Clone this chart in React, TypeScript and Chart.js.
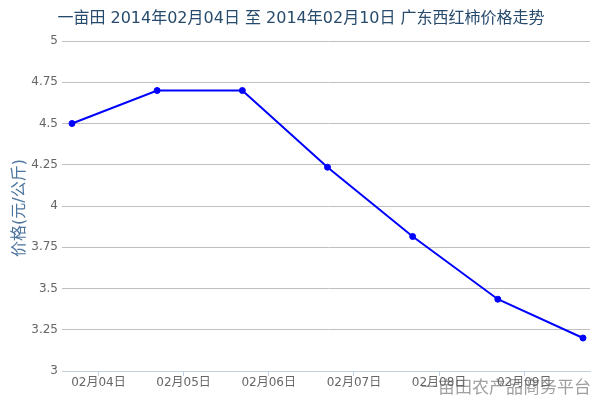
import React, { useEffect, useRef } from "react";
import { Chart, registerables } from "chart.js";

Chart.register(...registerables);

const TITLE = "一亩田 2014年02月04日 至 2014年02月10日 广东西红柿价格走势";
const Y_TITLE = "价格(元/公斤)";
const WATERMARK = "一亩田农产品商务平台";
const dateLabels = ["02月04日", "02月05日", "02月06日", "02月07日", "02月08日", "02月09日"];
const pointIndex = [0, 1, 2, 3, 4, 5, 6];
const prices = [4.5, 4.7, 4.7, 4.235, 3.815, 3.435, 3.2];
const yTicks = [3, 3.25, 3.5, 3.75, 4, 4.25, 4.5, 4.75, 5];

const FONT = "'DejaVu Sans', 'Noto Sans CJK SC', sans-serif";
const X_MIN = -5 / 85.17;
const X_MAX = 6 + 7 / 85.17;

const textPlugin = {
  id: "texts",
  beforeDraw(chart: any) {
    const ctx = chart.ctx;
    ctx.save();
    ctx.fillStyle = "#a0a0a0";
    ctx.font = `17px ${FONT}`;
    ctx.textAlign = "right";
    ctx.textBaseline = "middle";
    ctx.fillText(WATERMARK, 591, 389);
    ctx.restore();
  },
  afterDraw(chart: any) {
    const ctx = chart.ctx;
    ctx.save();
    ctx.fillStyle = "#274b6d";
    ctx.font = `16px ${FONT}`;
    ctx.textAlign = "center";
    ctx.textBaseline = "middle";
    ctx.fillText(TITLE, 301, 19);

    ctx.translate(20, 208);
    ctx.rotate(-Math.PI / 2);
    ctx.fillStyle = "#4d759e";
    ctx.font = `16px ${FONT}`;
    ctx.fillText(Y_TITLE, 0, 0);
    ctx.restore();
  },
};

export default function App() {
  const ref = useRef<HTMLCanvasElement>(null);
  useEffect(() => {
    document.body.style.margin = "0";
    const chart = new Chart(ref.current as HTMLCanvasElement, {
      type: "line",
      data: {
        datasets: [
          {
            data: pointIndex.map((x, i) => ({ x, y: prices[i] })),
            borderColor: "#0000ff",
            backgroundColor: "#0000ff",
            borderWidth: 2,
            pointRadius: 3,
            pointBorderWidth: 1,
            tension: 0,
            clip: false,
            xAxisID: "x",
            yAxisID: "y",
          },
        ],
      },
      options: {
        responsive: false,
        animation: false,
        layout: { padding: { top: 41, right: 10, left: 0, bottom: 0 } },
        plugins: { legend: { display: false }, tooltip: { enabled: false }, title: { display: false } },
        scales: {
          x: {
            type: "linear",
            min: X_MIN,
            max: X_MAX,
            display: false,
          },
          x2: {
            type: "linear",
            position: "bottom",
            min: X_MIN,
            max: X_MAX,
            afterBuildTicks(scale: any) {
              scale.ticks = dateLabels.map((_, k) => ({ value: k + 0.31 }));
            },
            afterFit(scale: any) {
              scale.height = 29;
            },
            ticks: {
              autoSkip: false,
              maxRotation: 0,
              padding: 0,
              color: "#666666",
              font: { family: FONT, size: 12 },
              callback: (_v: any, i: number) => dateLabels[i],
            },
            grid: { drawOnChartArea: false, tickLength: 5, color: "#C0D0E0" },
            border: { color: "#C0D0E0", width: 1 },
          },
          y: {
            type: "linear",
            min: 3,
            max: 5,
            afterBuildTicks(scale: any) {
              scale.ticks = yTicks.map((v) => ({ value: v }));
            },
            afterFit(scale: any) {
              scale.width = 67;
            },
            ticks: {
              padding: 4,
              color: "#666666",
              font: { family: FONT, size: 12 },
              callback: (v: any) => String(v),
            },
            grid: {
              drawTicks: true,
              tickLength: 5,
              color: (c: any) => (c.tick && c.tick.value === 3 ? "#C0D0E0" : "#C0C0C0"),
            },
            border: { display: false },
          },
        },
      },
      plugins: [textPlugin],
    } as any);
    return () => chart.destroy();
  }, []);
  return <canvas ref={ref} width={600} height={400} style={{ display: "block" }} />;
}
